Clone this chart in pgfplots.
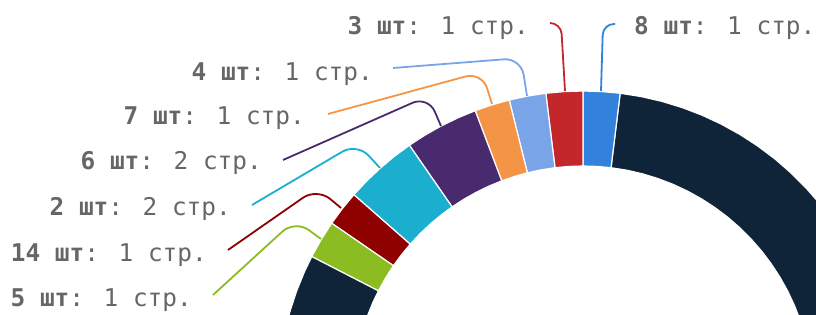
\documentclass[border=0pt]{standalone}
\usepackage{pgfplots}
\pgfplotsset{compat=1.18}
\usepgfplotslibrary{polar}
\usepackage{fontspec}
\newfontfamily\lbl{DejaVu Sans Mono}
\definecolor{cNavy}{RGB}{15,36,57}
\definecolor{cBlue}{RGB}{50,130,220}
\definecolor{cRed}{RGB}{195,39,43}
\definecolor{cLBlue}{RGB}{121,165,232}
\definecolor{cOrange}{RGB}{243,148,70}
\definecolor{cPurple}{RGB}{74,42,110}
\definecolor{cTeal}{RGB}{27,174,206}
\definecolor{cDRed}{RGB}{143,0,0}
\definecolor{cGreen}{RGB}{139,189,34}
\definecolor{cText}{RGB}{102,102,102}
\newcommand{\lab}[2]{{\lbl\fontsize{24.4pt}{29pt}\selectfont\color{cText}\textbf{#1}#2}}
\begin{document}
\begin{tikzpicture}
\begin{axis}[x=1pt,y=1pt,xmin=-583,xmax=233,ymin=81,ymax=396,
  hide axis, clip=true,
  every axis plot/.append style={line width=1.2pt, draw=white, data cs=polar}]
\coordinate (BL) at (rel axis cs:0,0);
\coordinate (TR) at (rel axis cs:1,1);
% navy (right visible part)
\addplot[fill=cNavy] coordinates {(15,305)(19,305)(23,305)(27,305)(31,305)(35,305)(39,305)(43,305)(47,305)(51,305)(55,305)(59,305)(63,305)(67,305)(71,305)(75,305)(79,305)(83,305)
 (83,230)(79,230)(75,230)(71,230)(67,230)(63,230)(59,230)(55,230)(51,230)(47,230)(43,230)(39,230)(35,230)(31,230)(27,230)(23,230)(19,230)(15,230)(15,305)};
% blue 8
\addplot[fill=cBlue] coordinates {(83,305)(86.5,305)(90,305)(90,230)(86.5,230)(83,230)(83,305)};
% red 3
\addplot[fill=cRed] coordinates {(90,305)(93.5,305)(97,305)(97,230)(93.5,230)(90,230)(90,305)};
% light blue 4
\addplot[fill=cLBlue] coordinates {(97,305)(100.5,305)(104,305)(104,230)(100.5,230)(97,230)(97,305)};
% orange 7
\addplot[fill=cOrange] coordinates {(104,305)(107.35,305)(110.7,305)(110.7,230)(107.35,230)(104,230)(104,305)};
% purple 6
\addplot[fill=cPurple] coordinates {(110.7,305)(114.2,305)(117.7,305)(121.2,305)(124.7,305)(124.7,230)(121.2,230)(117.7,230)(114.2,230)(110.7,230)(110.7,305)};
% teal 2
\addplot[fill=cTeal] coordinates {(124.7,305)(128.2,305)(131.7,305)(135.2,305)(138.7,305)(138.7,230)(135.2,230)(131.7,230)(128.2,230)(124.7,230)(124.7,305)};
% dark red 14
\addplot[fill=cDRed] coordinates {(138.7,305)(142.1,305)(145.5,305)(145.5,230)(142.1,230)(138.7,230)(138.7,305)};
% green 5
\addplot[fill=cGreen] coordinates {(145.5,305)(149.15,305)(152.8,305)(152.8,230)(149.15,230)(145.5,230)(145.5,305)};
% navy (left visible part)
\addplot[fill=cNavy] coordinates {(152.8,305)(156,305)(160,305)(164,305)(168,305)(168,230)(164,230)(160,230)(156,230)(152.8,230)(152.8,305)};
% leader lines
\begin{scope}[line width=1.8pt, rounded corners=11pt]
\draw[cBlue] (axis cs:32,372) -- (axis cs:20,372) -- (axis cs:18,305);
\draw[cRed] (axis cs:-33,373) -- (axis cs:-22,373) -- (axis cs:-18,305);
\end{scope}
\begin{scope}[line width=1.8pt, rounded corners=17pt]
\draw[cLBlue] (axis cs:-190,328) -- (axis cs:-62,338) -- (axis cs:-56,300);
\draw[cOrange] (axis cs:-255,282) -- (axis cs:-101,324) -- (axis cs:-91,292);
\draw[cPurple] (axis cs:-300,236) -- (axis cs:-155,300) -- (axis cs:-142,270);
\draw[cTeal] (axis cs:-331,191) -- (axis cs:-226,253) -- (axis cs:-203,228);
\draw[cDRed] (axis cs:-355,146) -- (axis cs:-266,208) -- (axis cs:-242,188);
\draw[cGreen] (axis cs:-370,101) -- (axis cs:-288,176) -- (axis cs:-262,157);
\end{scope}
% labels
\node[anchor=base east, inner sep=0pt] at (axis cs:-54,361) {\lab{3 шт}{: 1 стр.}};
\node[anchor=base west, inner sep=0pt] at (axis cs:51,361) {\lab{8 шт}{: 1 стр.}};
\node[anchor=base east, inner sep=0pt] at (axis cs:-210,315) {\lab{4 шт}{: 1 стр.}};
\node[anchor=base east, inner sep=0pt] at (axis cs:-278,271) {\lab{7 шт}{: 1 стр.}};
\node[anchor=base east, inner sep=0pt] at (axis cs:-321,226) {\lab{6 шт}{: 2 стр.}};
\node[anchor=base east, inner sep=0pt] at (axis cs:-352,180) {\lab{2 шт}{: 2 стр.}};
\node[anchor=base east, inner sep=0pt] at (axis cs:-376,134) {\lab{14 шт}{: 1 стр.}};
\node[anchor=base east, inner sep=0pt] at (axis cs:-391,89) {\lab{5 шт}{: 1 стр.}};
\end{axis}
\pgfresetboundingbox
\useasboundingbox (BL) rectangle (TR);
\end{tikzpicture}
\end{document}
